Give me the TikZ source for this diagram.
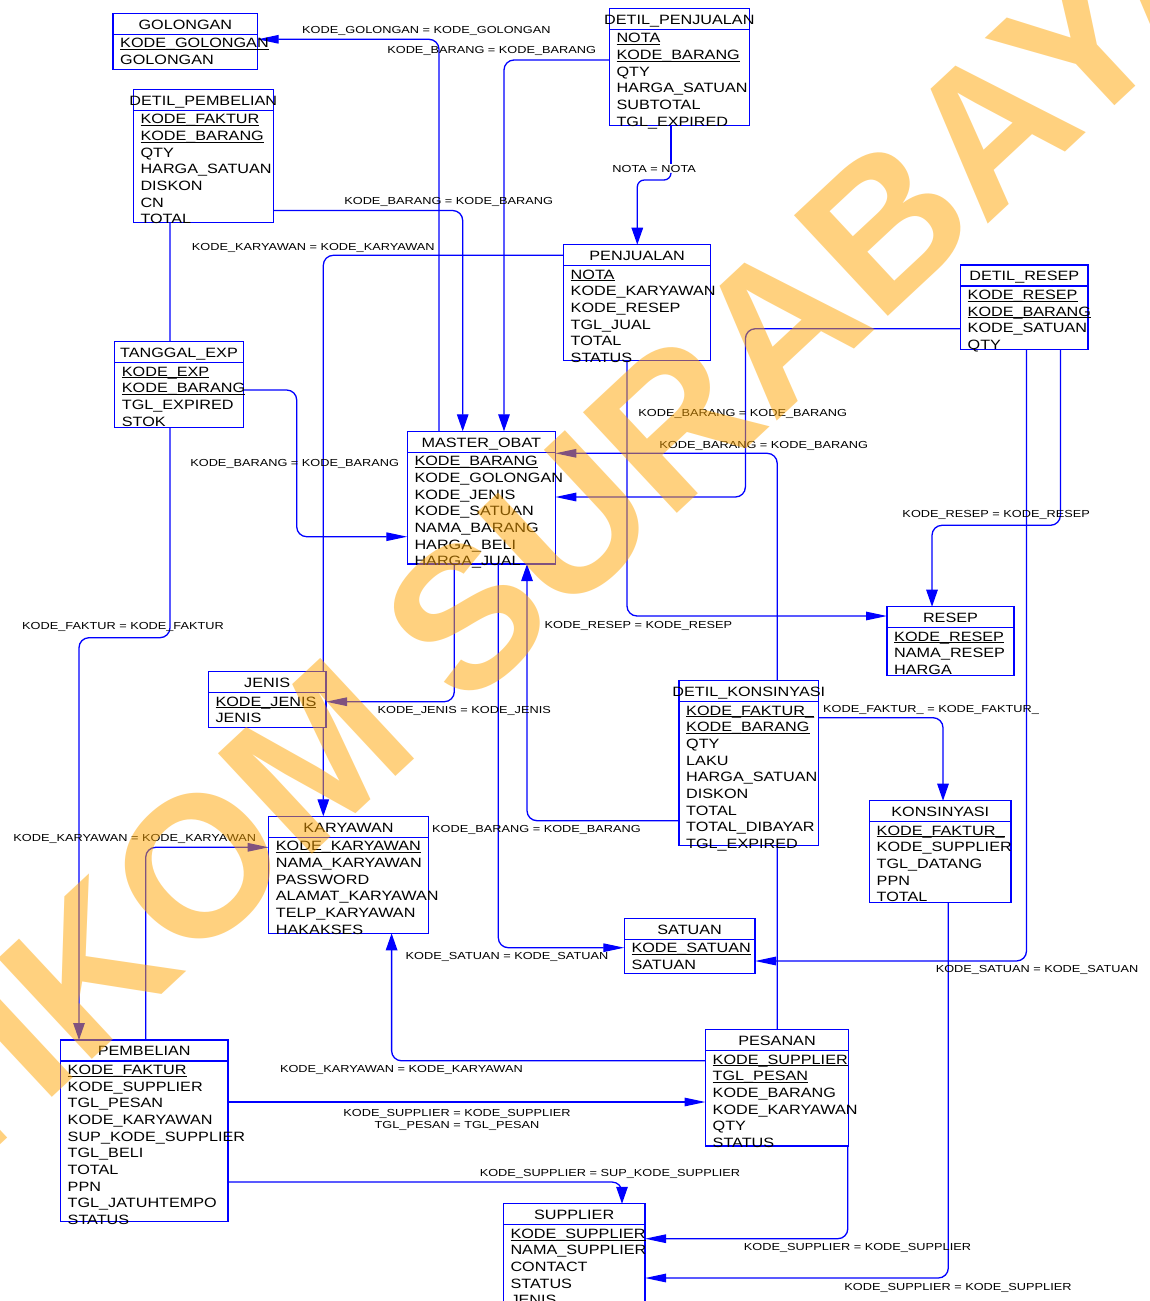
\documentclass[tikz,border=0pt]{standalone}
\usepackage{fontspec}
\setmainfont{Liberation Sans}
\newfontfamily\erfont{Liberation Sans}[FakeStretch=1.2]
\newfontfamily\lblfont{Liberation Sans}[FakeStretch=1.25]
\newfontfamily\stampfont{Liberation Sans}
\usetikzlibrary{arrows.meta}
\pgfdeclarelayer{background}
\pgfsetlayers{background,main}
\definecolor{erblue}{RGB}{0,0,255}
\definecolor{stamporange}{RGB}{255,165,0}

% underlined key attribute, rule level with the underscores
\newsavebox\ulbox
\newcommand\ul[1]{\sbox\ulbox{#1}\rlap{\rule[-2.1pt]{\wd\ulbox}{0.9pt}}\usebox\ulbox}

\tikzset{
  entbox/.style={draw=erblue, line width=1.3pt, fill=white, inner sep=0pt, outer sep=0pt, anchor=north west},
  boxline/.style={draw=erblue, line width=1.3pt},
  ttl/.style={font=\erfont\fontsize{13.5}{16}\selectfont, text=black, inner sep=0pt, anchor=base},
  attr/.style={font=\erfont\fontsize{13.5}{16}\selectfont, text=black, inner sep=0pt, anchor=base west},
  rel/.style={draw=erblue, line width=1.3pt, rounded corners=10pt},
  harr/.style={-{Triangle[length=21pt,width=8.5pt]}},
  varr/.style={-{Triangle[length=17pt,width=11.5pt]}},
  lbl/.style={font=\lblfont\fontsize{10.2}{12}\selectfont, text=black, inner sep=0pt, anchor=base, align=center},
  stamp/.style={font=\stampfont\bfseries\fontsize{200}{200}\selectfont, text=stamporange, text opacity=0.5, inner sep=0pt, rotate=43},
}

% table: name, left, top, right, bottom, title
\newcommand\entity[6]{%
  \node[entbox, minimum width={#4pt-#2pt}, minimum height={#5pt-#3pt}] (#1) at (#2,#3) {};
  \node[ttl] (#1-title) at ([yshift=-15.7pt]#1.north) {#6};
  \draw[boxline] ([yshift=-21pt]#1.north west) -- ([yshift=-21pt]#1.north east);
}
% table columns, one per row
\newcommand\fields[2]{%
  \foreach \f [count=\i] in {#2} {
    \node[attr] (#1-f\i) at ([xshift=7pt, yshift={-34.5pt-(\i-1)*16.67pt}]#1.north west) {\f};
  }
}

\begin{document}
\begin{tikzpicture}[x=1pt, y=-1pt]
\useasboundingbox (0,0) rectangle (1150,1301);

\entity{golongan}{113}{13.3}{257.7}{69.3}{GOLONGAN}
\fields{golongan}{\ul{KODE\_GOLONGAN},GOLONGAN}

\entity{dpenjualan}{609.3}{8.3}{749.3}{125.7}{DETIL\_PENJUALAN}
\fields{dpenjualan}{\ul{NOTA},\ul{KODE\_BARANG},QTY,HARGA\_SATUAN,SUBTOTAL,TGL\_EXPIRED}

\entity{dpembelian}{133.3}{89.3}{273.3}{222.7}{DETIL\_PEMBELIAN}
\fields{dpembelian}{\ul{KODE\_FAKTUR},\ul{KODE\_BARANG},QTY,HARGA\_SATUAN,DISKON,CN,TOTAL}

\entity{penjualan}{563.5}{244.7}{710.8}{360.7}{PENJUALAN}
\fields{penjualan}{\ul{NOTA},KODE\_KARYAWAN,KODE\_RESEP,TGL\_JUAL,TOTAL,STATUS}

\entity{dresep}{960.5}{265}{1088}{349.3}{DETIL\_RESEP}
\fields{dresep}{\ul{KODE\_RESEP},\ul{KODE\_BARANG},KODE\_SATUAN,QTY}

\entity{tglexp}{114.7}{341.7}{243.3}{427.3}{TANGGAL\_EXP}
\fields{tglexp}{\ul{KODE\_EXP},\ul{KODE\_BARANG},TGL\_EXPIRED,STOK}

\entity{mobat}{407.3}{431.3}{555.3}{564}{MASTER\_OBAT}
\fields{mobat}{\ul{KODE\_BARANG},KODE\_GOLONGAN,KODE\_JENIS,KODE\_SATUAN,NAMA\_BARANG,HARGA\_BELI,HARGA\_JUAL}

\entity{resep}{887}{606.7}{1014}{675.7}{RESEP}
\fields{resep}{\ul{KODE\_RESEP},NAMA\_RESEP,HARGA}

\entity{jenis}{208.3}{671.7}{326}{727.7}{JENIS}
\fields{jenis}{\ul{KODE\_JENIS},JENIS}

\entity{dkons}{679}{680.7}{818.5}{845.7}{DETIL\_KONSINYASI}
\fields{dkons}{\ul{KODE\_FAKTUR\_},\ul{KODE\_BARANG},QTY,LAKU,HARGA\_SATUAN,DISKON,TOTAL,TOTAL\_DIBAYAR,TGL\_EXPIRED}

\entity{konsinyasi}{869.5}{800.7}{1011}{902.7}{KONSINYASI}
\fields{konsinyasi}{\ul{KODE\_FAKTUR\_},KODE\_SUPPLIER,TGL\_DATANG,PPN,TOTAL}

\entity{karyawan}{268.7}{816.3}{428.3}{933.3}{KARYAWAN}
\fields{karyawan}{\ul{KODE\_KARYAWAN},NAMA\_KARYAWAN,PASSWORD,ALAMAT\_KARYAWAN,TELP\_KARYAWAN,HAKAKSES}

\entity{satuan}{624.3}{918.3}{755}{973.3}{SATUAN}
\fields{satuan}{\ul{KODE\_SATUAN},SATUAN}

\entity{pesanan}{705.5}{1029.7}{848.5}{1146}{PESANAN}
\fields{pesanan}{\ul{KODE\_SUPPLIER},\ul{TGL\_PESAN},KODE\_BARANG,KODE\_KARYAWAN,QTY,STATUS}

\entity{pembelian}{60.5}{1040}{228}{1221.3}{PEMBELIAN}
\fields{pembelian}{\ul{KODE\_FAKTUR},KODE\_SUPPLIER,TGL\_PESAN,KODE\_KARYAWAN,SUP\_KODE\_SUPPLIER,TGL\_BELI,TOTAL,PPN,TGL\_JATUHTEMPO,STATUS}

\entity{supplier}{503.3}{1203.8}{645}{1330}{SUPPLIER}
\fields{supplier}{\ul{KODE\_SUPPLIER},NAMA\_SUPPLIER,CONTACT,STATUS,JENIS}

% join labels
\node[lbl] (l1)  at (426.4,33.3)   {KODE\_GOLONGAN = KODE\_GOLONGAN};
\node[lbl] (l2)  at (491.7,53.3)   {KODE\_BARANG = KODE\_BARANG};
\node[lbl] (l3)  at (654.2,172.3)  {NOTA = NOTA};
\node[lbl] (l4)  at (448.7,204.3)  {KODE\_BARANG = KODE\_BARANG};
\node[lbl] (l5)  at (313.3,250)    {KODE\_KARYAWAN = KODE\_KARYAWAN};
\node[lbl] (l6)  at (294.7,466)    {KODE\_BARANG = KODE\_BARANG};
\node[lbl] (l7)  at (742.7,416)    {KODE\_BARANG = KODE\_BARANG};
\node[lbl] (l8)  at (763.7,448.3)  {KODE\_BARANG = KODE\_BARANG};
\node[lbl] (l9)  at (996.2,517.3)  {KODE\_RESEP = KODE\_RESEP};
\node[lbl] (l10) at (638.4,628.3)  {KODE\_RESEP = KODE\_RESEP};
\node[lbl] (l11) at (123,629)      {KODE\_FAKTUR = KODE\_FAKTUR};
\node[lbl] (l12) at (464.2,713.3)  {KODE\_JENIS = KODE\_JENIS};
\node[lbl] (l13) at (931,712.7)    {KODE\_FAKTUR\_ = KODE\_FAKTUR\_};
\node[lbl] (l14) at (536.5,832.3)  {KODE\_BARANG = KODE\_BARANG};
\node[lbl] (l15) at (134.8,841.7)  {KODE\_KARYAWAN = KODE\_KARYAWAN};
\node[lbl] (l16) at (507,959.3)    {KODE\_SATUAN = KODE\_SATUAN};
\node[lbl] (l17) at (1037,972.7)   {KODE\_SATUAN = KODE\_SATUAN};
\node[lbl] (l18) at (401.4,1072.7) {KODE\_KARYAWAN = KODE\_KARYAWAN};
\node[lbl] (l19) at (457,1116.7)   {KODE\_SUPPLIER = KODE\_SUPPLIER};
\node[lbl] (l19b) at (457,1128.7)  {TGL\_PESAN = TGL\_PESAN};
\node[lbl] (l20) at (610,1176.7)   {KODE\_SUPPLIER = SUP\_KODE\_SUPPLIER};
\node[lbl] (l21) at (857.5,1250.7) {KODE\_SUPPLIER = KODE\_SUPPLIER};
\node[lbl] (l22) at (958,1290.7)   {KODE\_SUPPLIER = KODE\_SUPPLIER};

% relationships, drawn behind the tables
\begin{pgfonlayer}{background}
\fill[white] (0,0) rectangle (1150,1301);
\draw[rel,harr] (mobat.north -| 439,0) |- (golongan.east |- 0,39.3);
\draw[rel,varr] (dpenjualan.west |- 0,60) -| (mobat.north -| 504,0);
\draw[rel] (dpenjualan.south -| 671,0) -- ([yshift=1pt]l3.north -| 671,0);
\draw[rel,varr,rounded corners=7pt] ([yshift=-1pt]l3.south -| 671,0) |- (637.3,180) -- (penjualan.north -| 637.3,0);
\draw[rel,varr] (dpembelian.east |- 0,210.5) -| (mobat.north -| 462.7,0);
\draw[rel,varr] (dpembelian.south -| 170,0) |- (79,637.7) -- (pembelian.north -| 79,0);
\draw[rel,varr] (penjualan.west |- 0,255.3) -| (karyawan.north -| 323.3,0);
\draw[rel,harr] (tglexp.east |- 0,390) -| (296.7,536.7) -- (mobat.west |- 0,536.7);
\draw[rel,harr] (penjualan.south -| 627,0) |- (resep.west |- 0,616);
\draw[rel,harr] (dresep.west |- 0,328.7) -| (745.4,497) -- (mobat.east |- 0,497);
\draw[rel,harr] (pesanan.north -| 777.2,0) |- (mobat.east |- 0,453.3);
\draw[rel,varr] (dresep.south -| 1060.4,0) |- (932,525.3) -- (resep.north -| 932,0);
\draw[rel,harr] (dresep.south -| 1026.5,0) |- (satuan.east |- 0,961);
\draw[rel,harr] (mobat.south -| 454.3,0) |- (jenis.east |- 0,701.7);
\draw[rel,harr] (mobat.south -| 498.3,0) |- (satuan.west |- 0,947.7);
\draw[rel,varr] (dkons.west |- 0,820.7) -| (mobat.south -| 527,0);
\draw[rel,varr] (dkons.east |- 0,717.7) -| (konsinyasi.north -| 943,0);
\draw[rel,harr] (konsinyasi.south -| 948.3,0) |- (supplier.east |- 0,1278);
\draw[rel,harr] (pesanan.south -| 847.8,0) |- (supplier.east |- 0,1238.7);
\draw[rel,varr] (pembelian.east |- 0,1182) -| (supplier.north -| 622,0);
\draw[rel,harr] (pembelian.east |- 0,1102) -- (pesanan.west |- 0,1102);
\draw[rel,varr] (pesanan.west |- 0,1060.8) -| (karyawan.south -| 391.6,0);
\draw[rel,harr] (pembelian.north -| 145.7,0) |- (karyawan.west |- 0,847.3);
\end{pgfonlayer}

% library stamp across the sheet
\node[stamp] (stampmark) at (514,572) {STIKOM SURABAYA};
\end{tikzpicture}
\end{document}
